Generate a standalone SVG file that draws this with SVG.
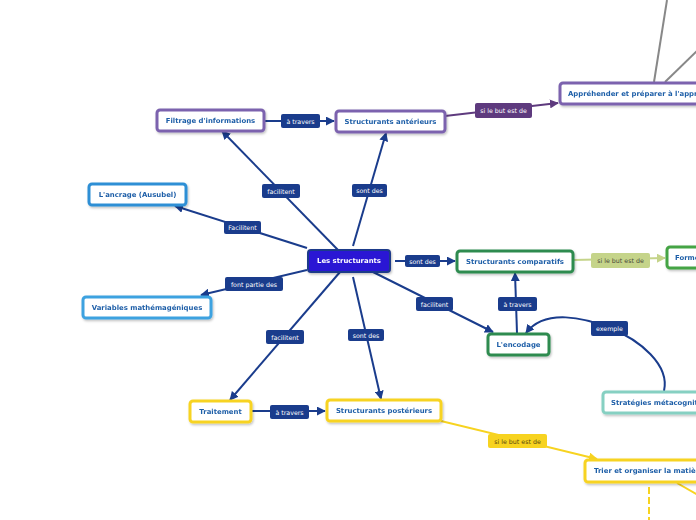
<svg xmlns="http://www.w3.org/2000/svg" width="696" height="520" viewBox="0 0 696 520">
<defs>
<style>
.n rect{fill:#fff;stroke-width:3}
.n text{font-family:"DejaVu Sans",Verdana,sans-serif;font-weight:bold;font-size:6.9px;fill:#1f5fa8;text-anchor:middle;dominant-baseline:central}
.pu rect{stroke:#7b62ae}
.bl rect{stroke:#2f8fd5}
.lb rect{stroke:#3da2e0}
.gr rect{stroke:#2e8b4f}
.lg rect{stroke:#45a444}
.te rect{stroke:#86d0c2}
.ye rect{stroke:#f7d320}
.c line,.c path{fill:none;stroke-width:2}
.cb{stroke:#1a3c8c}
.l rect{fill:#1a3c8c}
.l text{font-family:"DejaVu Sans",Verdana,sans-serif;font-size:6.3px;fill:#fff;text-anchor:middle;dominant-baseline:central}
</style>
<marker id="ab" viewBox="0 0 10 10" refX="9" refY="5" markerWidth="9" markerHeight="9" markerUnits="userSpaceOnUse" orient="auto"><path d="M0,0 L10,5 L0,10 z" fill="#1a3c8c"/></marker>
<marker id="ap" viewBox="0 0 10 10" refX="9" refY="5" markerWidth="9" markerHeight="9" markerUnits="userSpaceOnUse" orient="auto"><path d="M0,0 L10,5 L0,10 z" fill="#5e3a7e"/></marker>
<marker id="ag" viewBox="0 0 10 10" refX="9" refY="5" markerWidth="9" markerHeight="9" markerUnits="userSpaceOnUse" orient="auto"><path d="M0,0 L10,5 L0,10 z" fill="#c5d48a"/></marker>
<marker id="ay" viewBox="0 0 10 10" refX="9" refY="5" markerWidth="9" markerHeight="9" markerUnits="userSpaceOnUse" orient="auto"><path d="M0,0 L10,5 L0,10 z" fill="#f7d320"/></marker>
<filter id="sh" x="-10%" y="-30%" width="130%" height="180%"><feDropShadow dx="1" dy="1.5" stdDeviation="1" flood-color="#000" flood-opacity="0.25"/></filter>
</defs>
<rect width="696" height="520" fill="#fff"/>
<g id="connectors" class="c">
<line x1="654" y1="82" x2="667" y2="0" stroke="#888" stroke-width="1.5"/>
<line x1="665" y1="82" x2="698" y2="50" stroke="#888" stroke-width="1.5"/>
<line x1="649" y1="487" x2="649" y2="520" stroke="#f7d320" stroke-dasharray="7,3"/>
<line x1="677" y1="483" x2="698" y2="495" stroke="#f7d320"/>
<line class="cb" x1="264" y1="121" x2="334" y2="121" marker-end="url(#ab)"/>
<line x1="445" y1="116" x2="558" y2="103" stroke="#5e3a7e" marker-end="url(#ap)"/>
<line class="cb" x1="338" y1="250" x2="222" y2="131" marker-end="url(#ab)"/>
<line class="cb" x1="353" y1="246" x2="386" y2="133" marker-end="url(#ab)"/>
<line class="cb" x1="307" y1="248" x2="175" y2="206" marker-end="url(#ab)"/>
<line class="cb" x1="307" y1="270" x2="201" y2="295" marker-end="url(#ab)"/>
<line class="cb" x1="395" y1="261" x2="455" y2="261" marker-end="url(#ab)"/>
<line x1="573" y1="260" x2="665" y2="258" stroke="#c5d48a" marker-end="url(#ag)"/>
<line class="cb" x1="373" y1="272" x2="493" y2="332" marker-end="url(#ab)"/>
<line class="cb" x1="517" y1="333" x2="515" y2="273" marker-end="url(#ab)"/>
<path class="cb" d="M664,391 C670,365 640,340 610,328 C585,318 545,308 526,333" marker-end="url(#ab)"/>
<line class="cb" x1="340" y1="272" x2="230" y2="400" marker-end="url(#ab)"/>
<line class="cb" x1="353" y1="277" x2="381" y2="399" marker-end="url(#ab)"/>
<line class="cb" x1="251" y1="411" x2="325" y2="411" marker-end="url(#ab)"/>
<line x1="441" y1="421" x2="597" y2="459" stroke="#f7d320" marker-end="url(#ay)"/>
<g class="l">
<rect x="281" y="114" width="39" height="14" rx="2"/><text x="300.5" y="121">à travers</text>
<rect x="475" y="103" width="57" height="15" rx="2" style="fill:#5e3a7e"/><text x="503.5" y="110.5">si le but est de</text>
<rect x="262" y="184" width="38" height="14" rx="2"/><text x="281" y="191">facilitent</text>
<rect x="352" y="184" width="35" height="13" rx="2"/><text x="369.5" y="190.5">sont des</text>
<rect x="224" y="221" width="37" height="13" rx="2"/><text x="242.5" y="227.5">Facilitent</text>
<rect x="225" y="277" width="58" height="14" rx="2"/><text x="254" y="284">font partie des</text>
<rect x="405" y="255" width="35" height="12" rx="2"/><text x="422.5" y="261">sont des</text>
<rect x="591" y="253" width="59" height="15" rx="2" style="fill:#c5d48a"/><text x="620.5" y="260.5" style="fill:#4a4a3a">si le but est de</text>
<rect x="416" y="297" width="37" height="14" rx="2"/><text x="434.5" y="304">facilitent</text>
<rect x="498" y="297" width="39" height="14" rx="2"/><text x="517.5" y="304">à travers</text>
<rect x="591" y="321" width="37" height="15" rx="2"/><text x="609.5" y="328.5">exemple</text>
<rect x="266" y="330" width="38" height="14" rx="2"/><text x="285" y="337">facilitent</text>
<rect x="348" y="329" width="36" height="12" rx="2"/><text x="366" y="335">sont des</text>
<rect x="270" y="405" width="39" height="14" rx="2"/><text x="289.5" y="412">à travers</text>
<rect x="488" y="434" width="59" height="14" rx="2" style="fill:#f7d320"/><text x="517.5" y="441" style="fill:#5a4a10">si le but est de</text>
</g>
</g>
<g id="n-structurants" class="n" filter="url(#sh)"><rect x="308" y="250" width="82" height="22" rx="3" style="fill:#2a15d4;stroke:#1e3a8a;stroke-width:2"/><text x="349" y="261" style="fill:#fff">Les structurants</text></g>
<g id="n-filtrage" class="n pu" filter="url(#sh)"><rect x="157" y="110" width="107" height="21" rx="3"/><text x="210.5" y="120.5">Filtrage d'informations</text></g>
<g id="n-anterieurs" class="n pu" filter="url(#sh)"><rect x="336" y="111" width="109" height="21" rx="3"/><text x="390.5" y="121.5">Structurants antérieurs</text></g>
<g id="n-apprehender" class="n pu" filter="url(#sh)"><rect x="560" y="83" width="150" height="21" rx="3"/><text x="568" y="93.5" style="text-anchor:start">Appréhender et préparer à l'apprentissage</text></g>
<g id="n-ancrage" class="n bl" filter="url(#sh)"><rect x="89" y="184" width="97" height="21" rx="3"/><text x="137.5" y="194.5">L'ancrage (Ausubel)</text></g>
<g id="n-variables" class="n lb" filter="url(#sh)"><rect x="83" y="297" width="128" height="21" rx="3"/><text x="147" y="307.5">Variables mathémagéniques</text></g>
<g id="n-comparatifs" class="n gr" filter="url(#sh)"><rect x="457" y="251" width="116" height="21" rx="3"/><text x="515" y="261.5">Structurants comparatifs</text></g>
<g id="n-form" class="n lg" filter="url(#sh)"><rect x="667" y="247" width="60" height="21" rx="3"/><text x="675" y="257.5" style="text-anchor:start">Former</text></g>
<g id="n-encodage" class="n gr" filter="url(#sh)"><rect x="488" y="334" width="61" height="21" rx="3"/><text x="518.5" y="344.5">L'encodage</text></g>
<g id="n-strategies" class="n te" filter="url(#sh)"><rect x="603" y="392" width="130" height="21" rx="3"/><text x="611" y="402.5" style="text-anchor:start">Stratégies métacognitives</text></g>
<g id="n-traitement" class="n ye" filter="url(#sh)"><rect x="190" y="401" width="61" height="21" rx="3"/><text x="220.5" y="411.5">Traitement</text></g>
<g id="n-posterieurs" class="n ye" filter="url(#sh)"><rect x="327" y="400" width="114" height="21" rx="3"/><text x="384" y="410.5">Structurants postérieurs</text></g>
<g id="n-trier" class="n ye" filter="url(#sh)"><rect x="585" y="460" width="150" height="22" rx="3"/><text x="594" y="471" style="text-anchor:start">Trier et organiser la matière</text></g>
</svg>
